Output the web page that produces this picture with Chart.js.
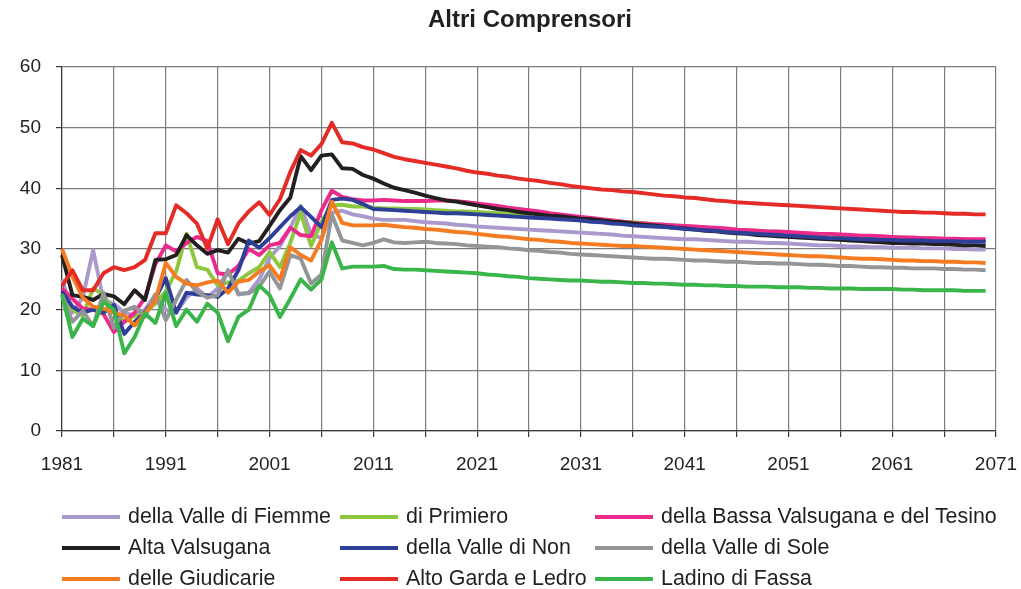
<!DOCTYPE html>
<html>
<head>
<meta charset="utf-8">
<script src="https://cdn.jsdelivr.net/npm/chart.js@4"></script>
<style>
  body { margin: 0; background: #fff; }
  #wrap { position: relative; width: 1021px; height: 589px; font-family: 'Liberation Sans', Arial, sans-serif; color: #231f20; }
  #myChart { position: absolute; left: 0; top: 0; }
  #title { position: absolute; left: 330px; width: 400px; top: 5px; text-align: center; font-weight: bold; font-size: 24px; }
  #legend { position: absolute; left: 0; top: 503px; width: 1021px; }
  .item { position: absolute; display: flex; align-items: center; font-size: 21.4px; white-space: nowrap; }
  .item span.swatch { display: inline-block; width: 58px; height: 4px; margin-right: 8px; }
</style>
</head>
<body>
<div id="wrap">
  <canvas id="myChart" width="1021" height="589"></canvas>
  <div id="title">Altri Comprensori</div>
  <div id="legend"></div>
</div>
<script>
// years on the category axis, 1981 ... 2071 (data ends 2070)
const years = Array.from({ length: 91 }, (_, i) => String(1981 + i));

const seriesNames = [
    'della Valle di Fiemme', 'di Primiero', 'della Bassa Valsugana e del Tesino',
    'Alta Valsugana', 'della Valle di Non', 'della Valle di Sole',
    'delle Giudicarie', 'Alto Garda e Ledro', 'Ladino di Fassa'
];
const seriesColors = ['#aa99cc', '#8dc63f', '#ec2a8c', '#231f20', '#2e3f98', '#939598', '#f47b20', '#e42b26', '#3ab54a'];

const fiemme = [
    25.0, 19.5, 22.0, 29.8, 21.5, 21.0, 19.5, 19.0, 20.0, 22.5,
    20.0, 19.5, 22.0, 23.5, 22.0, 23.5, 26.5, 22.5, 22.8, 25.0,
    28.5, 30.5, 33.5, 37.1, 32.4, 31.8, 36.0, 36.3, 35.7, 35.4,
    35.0, 34.8, 34.8, 34.8, 34.6, 34.4, 34.3, 34.2, 34.0, 33.9,
    33.7, 33.6, 33.5, 33.4, 33.3, 33.2, 33.1, 33.0, 32.9, 32.8,
    32.7, 32.6, 32.5, 32.4, 32.2, 32.1, 32.0, 31.9, 31.8, 31.7,
    31.6, 31.6, 31.5, 31.4, 31.3, 31.2, 31.2, 31.1, 31.0, 31.0,
    30.9, 30.8, 30.7, 30.6, 30.6, 30.5, 30.4, 30.4, 30.3, 30.3,
    30.2, 30.2, 30.2, 30.1, 30.1, 30.1, 30.0, 30.0, 29.9, 29.9
];
const primiero = [
    22.5, 20.0, 19.0, 23.5, 22.5, 19.5, 18.0, 19.0, 19.5, 21.0,
    23.0, 26.3, 32.5, 27.0, 26.6, 24.0, 24.5, 24.8, 26.0, 27.0,
    29.5, 27.0, 31.0, 36.0, 30.5, 34.5, 37.2, 37.3, 37.0, 37.0,
    36.8, 36.7, 36.7, 36.6, 36.6, 36.5, 36.4, 36.3, 36.2, 36.2,
    36.1, 36.0, 35.9, 35.8, 35.7, 35.6, 35.5, 35.4, 35.3, 35.2,
    35.1, 34.9, 34.8, 34.7, 34.5, 34.4, 34.3, 34.1, 34.0, 33.9,
    33.8, 33.6, 33.5, 33.4, 33.3, 33.2, 33.1, 33.0, 32.9, 32.8,
    32.7, 32.6, 32.5, 32.4, 32.4, 32.3, 32.2, 32.1, 32.1, 32.0,
    31.9, 31.9, 31.8, 31.8, 31.7, 31.7, 31.6, 31.6, 31.5, 31.5
];
const bassaValsugana = [
    23.5, 21.8, 20.2, 20.0, 19.3, 16.3, 18.0, 19.5, 22.0, 27.5,
    30.6, 29.6, 31.0, 32.0, 31.3, 26.0, 25.8, 27.2, 30.0, 29.0,
    30.6, 31.0, 33.5, 32.3, 32.1, 36.4, 39.6, 38.6, 38.2, 38.0,
    38.0, 38.1, 38.0, 37.9, 37.9, 37.9, 38.0, 38.0, 37.9, 37.7,
    37.5, 37.3, 37.1, 36.8, 36.6, 36.4, 36.2, 35.9, 35.7, 35.5,
    35.3, 35.1, 34.9, 34.7, 34.5, 34.3, 34.2, 34.1, 34.0, 33.9,
    33.8, 33.7, 33.6, 33.5, 33.4, 33.2, 33.1, 33.0, 32.9, 32.9,
    32.8, 32.7, 32.6, 32.5, 32.5, 32.4, 32.3, 32.2, 32.2, 32.1,
    32.0, 31.9, 31.9, 31.8, 31.8, 31.7, 31.7, 31.6, 31.6, 31.6
];
const altaValsugana = [
    29.0, 22.4, 22.1, 21.6, 22.6, 22.2, 20.9, 23.2, 21.6, 28.2,
    28.3, 29.0, 32.3, 30.6, 29.2, 29.8, 29.4, 31.7, 30.9, 31.3,
    33.8, 36.4, 38.5, 45.3, 43.0, 45.4, 45.6, 43.3, 43.2, 42.2,
    41.6, 40.8, 40.1, 39.7, 39.3, 38.8, 38.4, 38.0, 37.8, 37.5,
    37.2, 36.9, 36.6, 36.4, 36.1, 35.9, 35.7, 35.5, 35.4, 35.2,
    35.0, 34.9, 34.7, 34.5, 34.4, 34.2, 34.0, 33.9, 33.7, 33.5,
    33.4, 33.2, 33.0, 32.9, 32.7, 32.6, 32.5, 32.3, 32.2, 32.1,
    32.0, 31.9, 31.8, 31.7, 31.6, 31.5, 31.4, 31.3, 31.2, 31.1,
    31.0, 31.0, 30.9, 30.9, 30.8, 30.8, 30.7, 30.6, 30.6, 30.5
];
const valleNon = [
    23.0, 20.5, 19.5, 20.0, 19.5, 20.8, 16.0, 18.0, 19.6, 21.8,
    25.2, 19.5, 22.8, 22.5, 22.4, 22.1, 23.5, 26.5, 31.4, 30.2,
    31.8, 33.6, 35.4, 36.9, 35.3, 33.6, 38.1, 38.3, 38.1, 37.4,
    36.6, 36.5, 36.4, 36.3, 36.2, 36.1, 36.0, 35.9, 35.9, 35.8,
    35.7, 35.6, 35.5, 35.4, 35.3, 35.2, 35.1, 35.0, 34.9, 34.8,
    34.7, 34.5, 34.4, 34.2, 34.1, 33.9, 33.8, 33.7, 33.6, 33.5,
    33.3, 33.2, 33.1, 33.0, 32.8, 32.7, 32.6, 32.5, 32.4, 32.3,
    32.2, 32.1, 32.0, 31.9, 31.8, 31.8, 31.7, 31.6, 31.6, 31.5,
    31.5, 31.4, 31.4, 31.4, 31.3, 31.3, 31.3, 31.2, 31.2, 31.2
];
const valleSole = [
    22.5, 18.0, 19.8, 17.3, 22.8, 17.0, 19.8, 20.5, 18.8, 22.5,
    18.3, 21.6, 24.9, 23.0, 22.0, 22.4, 26.5, 22.6, 22.7, 23.8,
    26.3, 23.5, 29.0, 28.4, 24.3, 25.8, 35.7, 31.4, 31.0, 30.6,
    31.0, 31.6, 31.1, 31.0, 31.1, 31.2, 31.0, 30.9, 30.8, 30.6,
    30.5, 30.4, 30.3, 30.1, 30.0, 29.8, 29.7, 29.5, 29.4, 29.2,
    29.1, 29.0, 28.9, 28.8, 28.7, 28.6, 28.5, 28.4, 28.4, 28.3,
    28.2, 28.1, 28.1, 28.0, 27.9, 27.9, 27.8, 27.7, 27.7, 27.6,
    27.6, 27.5, 27.4, 27.4, 27.3, 27.2, 27.2, 27.1, 27.0, 27.0,
    26.9, 26.9, 26.8, 26.8, 26.8, 26.7, 26.7, 26.6, 26.6, 26.5
];
const giudicarie = [
    30.0, 25.5, 22.0, 20.5, 20.2, 19.5, 19.0, 17.4, 19.4, 21.5,
    27.7, 25.4, 24.3, 24.0, 24.5, 24.8, 22.8, 24.6, 24.9, 26.3,
    27.3, 25.0, 30.3, 29.0, 28.1, 31.5, 37.8, 34.3, 33.9, 33.9,
    33.9, 34.0, 33.8, 33.6, 33.5, 33.3, 33.2, 33.0, 32.8, 32.7,
    32.5, 32.3, 32.1, 32.0, 31.8, 31.6, 31.5, 31.3, 31.2, 31.0,
    30.9, 30.8, 30.7, 30.6, 30.5, 30.5, 30.4, 30.3, 30.2, 30.1,
    30.0, 29.9, 29.8, 29.7, 29.6, 29.5, 29.4, 29.3, 29.2, 29.1,
    29.0, 28.9, 28.8, 28.8, 28.7, 28.6, 28.5, 28.4, 28.4, 28.3,
    28.2, 28.1, 28.1, 28.0, 28.0, 27.9, 27.9, 27.8, 27.8, 27.7
];
const altoGarda = [
    23.9, 26.5, 23.2, 23.2, 26.0, 27.0, 26.5, 27.0, 28.2, 32.6,
    32.6, 37.2, 35.9, 34.2, 30.1, 34.9, 30.8, 34.2, 36.2, 37.7,
    35.6, 38.2, 42.7, 46.3, 45.4, 47.3, 50.8, 47.6, 47.4, 46.8,
    46.4, 45.8, 45.2, 44.8, 44.5, 44.2, 43.9, 43.6, 43.3, 42.9,
    42.6, 42.4, 42.1, 41.9, 41.6, 41.4, 41.2, 40.9, 40.7, 40.4,
    40.2, 40.0, 39.8, 39.7, 39.5, 39.4, 39.2, 39.0, 38.8, 38.7,
    38.5, 38.4, 38.2, 38.0, 37.9, 37.7, 37.6, 37.5, 37.4, 37.3,
    37.2, 37.1, 37.0, 36.9, 36.8, 36.7, 36.6, 36.5, 36.4, 36.3,
    36.2, 36.1, 36.1, 36.0, 36.0, 35.9, 35.8, 35.8, 35.7, 35.7
];
const ladinoFassa = [
    22.5, 15.5, 18.5, 17.3, 21.3, 20.0, 12.8, 15.5, 19.4, 17.8,
    22.8, 17.3, 20.0, 18.0, 21.0, 19.5, 14.8, 18.8, 20.0, 24.0,
    22.4, 18.8, 21.8, 25.0, 23.3, 25.0, 31.1, 26.8, 27.1, 27.1,
    27.1, 27.2, 26.7, 26.6, 26.6, 26.5, 26.4, 26.3, 26.2, 26.1,
    26.0, 25.8, 25.7, 25.5, 25.4, 25.2, 25.1, 25.0, 24.9, 24.8,
    24.8, 24.7, 24.6, 24.6, 24.5, 24.4, 24.4, 24.3, 24.3, 24.2,
    24.1, 24.1, 24.0, 24.0, 23.9, 23.9, 23.8, 23.8, 23.8, 23.7,
    23.7, 23.7, 23.6, 23.6, 23.5, 23.5, 23.5, 23.4, 23.4, 23.4,
    23.4, 23.3, 23.3, 23.2, 23.2, 23.2, 23.2, 23.1, 23.1, 23.1
];

const seriesValues = [fiemme, primiero, bassaValsugana, altaValsugana, valleNon, valleSole, giudicarie, altoGarda, ladinoFassa];

const gridColor = '#7b7c7e';
const tickFont = { family: "'Liberation Sans', Arial, sans-serif", size: 19 };

// later series drawn on top, as in the original
const datasets = seriesNames.map((name, i) => ({
    label: name,
    data: seriesValues[i],
    borderColor: seriesColors[i],
    backgroundColor: seriesColors[i],
    borderWidth: 3.9,
    pointRadius: 0,
    tension: 0,
    borderJoinStyle: 'round',
    order: seriesNames.length - i
}));

const ctx = document.getElementById('myChart').getContext('2d');
const myChart = new Chart(ctx, {
    type: 'line',
    data: { labels: years, datasets: datasets },
    options: {
        responsive: false,
        animation: false,
        devicePixelRatio: 1,
        layout: { padding: { top: 67, right: 25, bottom: 110, left: 0 } },
        plugins: { legend: { display: false }, tooltip: { enabled: false }, title: { display: false } },
        scales: {
            x: {
                type: 'category',
                offset: false,
                border: { color: '#3a3a3a', width: 1.2 },
                grid: {
                    color: c => (c.index % 5 === 0 ? gridColor : 'rgba(0,0,0,0)'),
                    tickColor: c => (c.index % 5 === 0 ? '#3a3a3a' : 'rgba(0,0,0,0)'),
                    lineWidth: 1.2,
                    tickLength: 6
                },
                ticks: {
                    autoSkip: false,
                    maxRotation: 0,
                    color: '#231f20',
                    font: tickFont,
                    padding: 16,
                    callback: (val, i) => (i % 10 === 0 ? years[i] : '')
                },
                afterFit: scale => {
                    scale.height = 48;
                    scale.paddingLeft = 0;
                    scale.paddingRight = 0;
                }
            },
            y: {
                min: 0,
                max: 60,
                border: { color: '#3a3a3a', width: 1.2 },
                grid: { color: gridColor, tickColor: '#3a3a3a', lineWidth: 1.2, tickLength: 6 },
                ticks: { stepSize: 10, color: '#231f20', font: tickFont, padding: 15 },
                afterFit: scale => { scale.width = 62; }
            }
        }
    }
});

// legend in three columns, like the original
const legendCols = [62, 340, 595];
const legendRows = [13, 44, 75];
const legend = document.getElementById('legend');
myChart.data.datasets.forEach((ds, i) => {
    const item = document.createElement('div');
    item.className = 'item';
    item.style.left = legendCols[i % 3] + 'px';
    item.style.top = (legendRows[Math.floor(i / 3)] - 12) + 'px';
    item.innerHTML = '<span class="swatch" style="background:' + ds.borderColor + '"></span>' + ds.label;
    legend.appendChild(item);
});
</script>
</body>
</html>
